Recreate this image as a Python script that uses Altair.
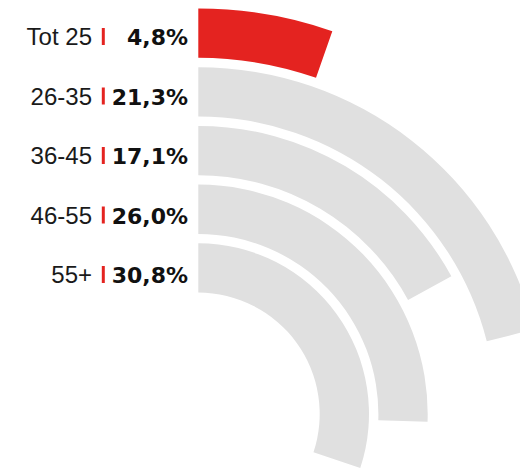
import altair as alt
import pandas as pd

# ---- data ----
categories = ["Tot 25", "26-35", "36-45", "46-55", "55+"]
values = [4.8, 21.3, 17.1, 26.0, 30.8]
bar_colors = ["#e42320", "#e0e0e0", "#e0e0e0", "#e0e0e0", "#e0e0e0"]

df = pd.DataFrame({"category": categories, "value": values})

base = alt.Chart(df).transform_window(
    row="row_number()"
).transform_calculate(
    ring=f"{len(categories)} - datum.row",      # 0 = innermost ring (55+) ... 4 = outermost (Tot 25)
    ring_inner="datum.ring - 0.84",
    label="replace(format(datum.value, '.1f'), '.', ',') + '%'"
)

arcs = base.mark_arc(strokeWidth=0).encode(
    x=alt.value(198.3),
    y=alt.value(414),
    theta=alt.Theta("value:Q", stack=None,
                    scale=alt.Scale(domain=[0, 100], range=[0.0497, 6.031])),
    theta2=alt.value(0),
    radius=alt.Radius("ring:Q",
                      scale=alt.Scale(type="linear", zero=False, domain=[0, 4], range=[170.7, 405.5])),
    radius2="ring_inner:Q",
    color=alt.Color("category:N", scale=alt.Scale(domain=categories, range=bar_colors), legend=None),
)

y_enc = alt.Y("ring:Q", scale=alt.Scale(domain=[0, 4], range=[283, 45]), axis=None)

labels = base.mark_text(align="right", baseline="alphabetic", font="Liberation Sans",
                        fontSize=24, color="#1a1a1a").encode(
    x=alt.value(92), y=y_enc, text="category:N"
)

ticks = base.mark_tick(orient="vertical", size=17, thickness=3,
                       color="#e42320", yOffset=-8.5, opacity=1).encode(
    x=alt.value(103.3), y=y_enc
)

vals = base.mark_text(align="right", baseline="alphabetic", font="DejaVu Sans",
                      fontSize=22, fontWeight="bold", color="#111111").encode(
    x=alt.value(188), y=y_enc, text="label:N"
)

chart = alt.layer(arcs, labels, ticks, vals).properties(
    width=520, height=469, padding=0, autosize="none"
).configure_view(stroke=None)

chart.save("out.html", embed_options={"renderer": "svg", "actions": False})
